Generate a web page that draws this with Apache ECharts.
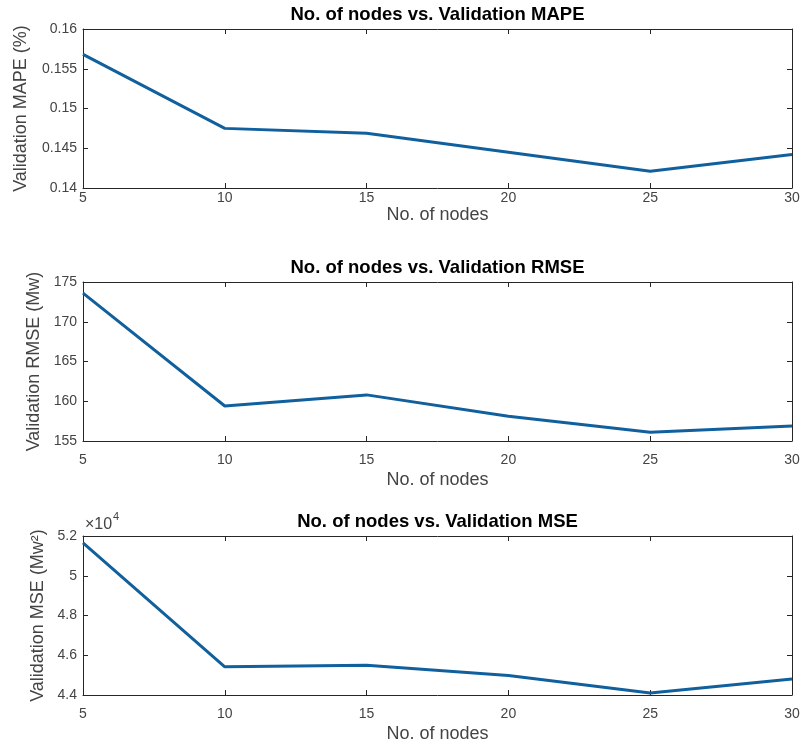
<!DOCTYPE html>
<html>
<head>
<meta charset="utf-8">
<script src="https://cdn.jsdelivr.net/npm/echarts@6/dist/echarts.min.js"></script>
<style>html,body{margin:0;padding:0;background:#fff;}#c{width:804px;height:746px;}</style>
</head>
<body>
<div id="c"></div>
<script>
const nodes = [5, 10, 15, 20, 25, 30];
const mape = [0.1568, 0.1475, 0.1469, 0.1445, 0.1421, 0.1442];
const rmse = [173.6, 159.4, 160.8, 158.1, 156.1, 156.9];
const mse = [51650, 45420, 45500, 44980, 44100, 44800];
const titles = ['No. of nodes vs. Validation MAPE', 'No. of nodes vs. Validation RMSE', 'No. of nodes vs. Validation MSE'];
const yNames = ['Validation MAPE (%)', 'Validation RMSE (Mw)', 'Validation MSE (Mw\u00B2)'];
const xName = 'No. of nodes';

const FONT = '"Liberation Sans", Arial, Helvetica, sans-serif';
const AX = '#262626';
const LBL = '#444444';
const LINE = '#11609e';

const grids = [
  {left: 83, right: 12, top: 29, height: 159},
  {left: 83, right: 12, top: 282, height: 159},
  {left: 83, right: 12, top: 536, height: 159}
];
const yCfg = [
  {min: 0.14, max: 0.16, interval: 0.005, fmt: v => String(parseFloat(v.toFixed(3))), gap: 53},
  {min: 155, max: 175, interval: 5, fmt: v => String(Math.round(v)), gap: 37},
  {min: 44000, max: 52000, interval: 2000, fmt: v => String(parseFloat((v / 1e4).toFixed(1))), gap: 34}
];
const xCfg = [
  {margin: 3, gap: 12},
  {margin: 12, gap: 30},
  {margin: 12, gap: 30}
];
const datas = [mape, rmse, mse];

const xAxes = [], yAxes = [], series = [], graphic = [];
grids.forEach((g, i) => {
  xAxes.push({
    gridIndex: i, type: 'value', min: 5, max: 30, interval: 5, position: 'bottom',
    name: xName, nameLocation: 'middle', nameGap: xCfg[i].gap,
    nameTextStyle: {fontFamily: FONT, fontSize: 18, color: LBL},
    axisLine: {show: true, lineStyle: {color: AX, width: 1}},
    axisTick: {show: true, inside: true, length: 5, lineStyle: {color: AX}},
    axisLabel: {show: true, margin: xCfg[i].margin, fontFamily: FONT, fontSize: 14, color: LBL},
    splitLine: {show: false}
  });
  xAxes.push({
    gridIndex: i, type: 'value', min: 5, max: 30, interval: 5, position: 'top',
    axisLine: {show: true, lineStyle: {color: AX, width: 1}},
    axisTick: {show: true, inside: true, length: 5, lineStyle: {color: AX}},
    axisLabel: {show: false}, splitLine: {show: false}
  });
  const yc = yCfg[i];
  yAxes.push({
    gridIndex: i, type: 'value', min: yc.min, max: yc.max, interval: yc.interval, position: 'left',
    name: yNames[i], nameLocation: 'middle', nameGap: yc.gap,
    nameTextStyle: {fontFamily: FONT, fontSize: 18, color: LBL},
    axisLine: {show: true, lineStyle: {color: AX, width: 1}},
    axisTick: {show: true, inside: true, length: 5, lineStyle: {color: AX}},
    axisLabel: {show: true, margin: 6, fontFamily: FONT, fontSize: 14, color: LBL, formatter: yc.fmt},
    splitLine: {show: false}
  });
  yAxes.push({
    gridIndex: i, type: 'value', min: yc.min, max: yc.max, interval: yc.interval, position: 'right',
    axisLine: {show: true, lineStyle: {color: AX, width: 1}},
    axisTick: {show: true, inside: true, length: 5, lineStyle: {color: AX}},
    axisLabel: {show: false}, splitLine: {show: false}
  });
  series.push({
    type: 'line', xAxisIndex: i * 2, yAxisIndex: i * 2,
    data: nodes.map((n, k) => [n, datas[i][k]]),
    showSymbol: false, symbol: 'none', smooth: false,
    lineStyle: {color: LINE, width: 3}, itemStyle: {color: LINE},
    animation: false
  });
  graphic.push({
    type: 'text', x: 437.5, y: g.top - 14,
    style: {text: titles[i], font: 'bold 18.5px ' + FONT, fill: '#000',
      textAlign: 'center', textVerticalAlign: 'middle', align: 'center', verticalAlign: 'middle'}
  });
});
graphic.push({
  type: 'text', x: 85, y: 525,
  style: {text: '\u00D710', font: '16px ' + FONT, fill: LBL,
    textAlign: 'left', textVerticalAlign: 'middle', align: 'left', verticalAlign: 'middle'}
});
graphic.push({
  type: 'text', x: 113, y: 517,
  style: {text: '4', font: '11px ' + FONT, fill: LBL,
    textAlign: 'left', textVerticalAlign: 'middle', align: 'left', verticalAlign: 'middle'}
});

const chart = echarts.init(document.getElementById('c'), null, {renderer: 'canvas'});
chart.setOption({
  backgroundColor: '#fff',
  animation: false,
  grid: grids,
  xAxis: xAxes,
  yAxis: yAxes,
  series: series,
  graphic: graphic
});
</script>
</body>
</html>
